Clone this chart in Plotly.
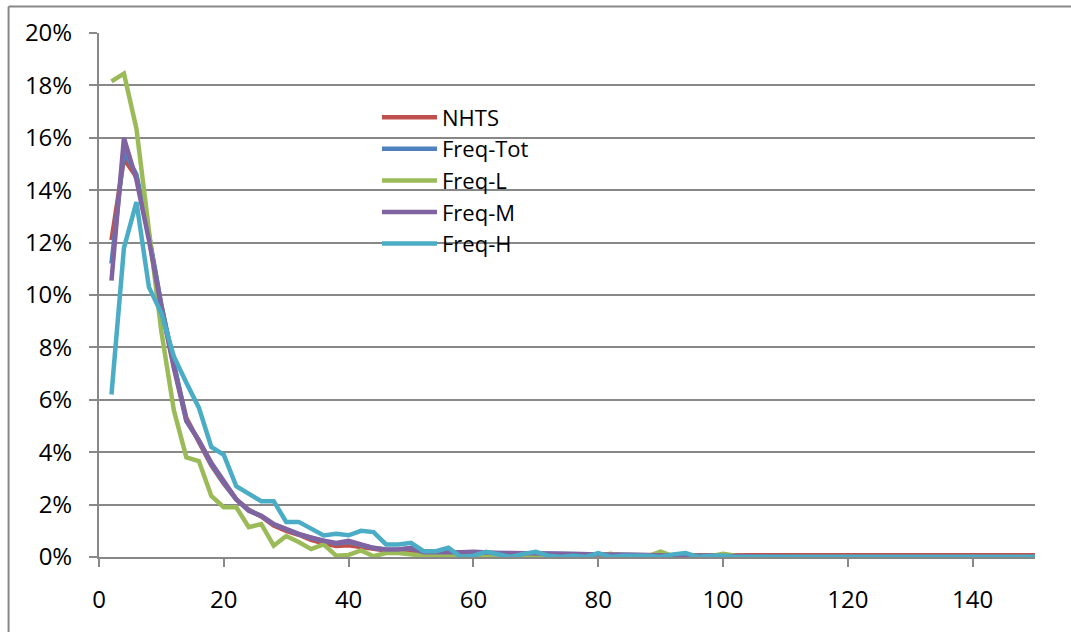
import plotly.graph_objects as go

x_vals = list(range(2, 152, 2))

nhts = [12.1, 15.2, 14.5, 12.2, 9.6, 7.3, 5.3, 4.4, 3.5, 2.8, 2.2, 1.8, 1.55, 1.2, 1.0, 0.85, 0.65, 0.52, 0.42, 0.45,
        0.38, 0.3, 0.25, 0.25, 0.25, 0.18, 0.16, 0.15, 0.15, 0.15, 0.14, 0.13, 0.12, 0.12, 0.11, 0.1, 0.1, 0.09, 0.09, 0.08,
        0.08, 0.08, 0.07, 0.07, 0.07, 0.07, 0.07, 0.07, 0.07, 0.07, 0.07, 0.07, 0.07, 0.07, 0.07, 0.07, 0.07, 0.07, 0.07, 0.07,
        0.07, 0.07, 0.07, 0.07, 0.07, 0.07, 0.07, 0.07, 0.07, 0.07, 0.07, 0.07, 0.07, 0.07, 0.07]
freq_tot = [11.2, 15.5, 14.6, 12.3, 9.6, 7.3, 5.2, 4.45, 3.55, 2.85, 2.2, 1.78, 1.57, 1.25, 1.05, 0.87, 0.72, 0.6, 0.52, 0.58,
            0.46, 0.34, 0.28, 0.28, 0.33, 0.18, 0.18, 0.17, 0.17, 0.19, 0.16, 0.15, 0.14, 0.14, 0.13, 0.12, 0.12, 0.11, 0.1, 0.1,
            0.09, 0.09, 0.08, 0.08, 0.06, 0.06, 0.05, 0.05, 0.04, 0.03, 0.02, 0.01, 0.0, 0.0, 0.0, 0.0, 0.0, 0.0, 0.0, 0.0,
            0.0, 0.0, 0.0, 0.0, 0.0, 0.0, 0.0, 0.0, 0.0, 0.0, 0.0, 0.0, 0.0, 0.0, 0.0]
freq_l = [18.15, 18.45, 16.35, 12.6, 8.6, 5.6, 3.8, 3.66, 2.33, 1.9, 1.9, 1.14, 1.26, 0.43, 0.8, 0.57, 0.3, 0.48, 0.05, 0.08,
          0.25, 0.03, 0.15, 0.15, 0.08, 0.05, 0.05, 0.05, 0.02, 0.05, 0.0, 0.05, 0.03, 0.05, 0.02, 0.03, 0.02, 0.05, 0.03, 0.05,
          0.12, 0.03, 0.05, 0.03, 0.2, 0.03, 0.02, 0.05, 0.03, 0.12, 0.05, 0.02, 0.0, 0.0, 0.0, 0.0, 0.0, 0.0, 0.0, 0.0,
          0.0, 0.0, 0.0, 0.0, 0.0, 0.0, 0.0, 0.0, 0.0, 0.0, 0.0, 0.0, 0.0, 0.0, 0.0]
freq_m = [10.55, 16.0, 14.4, 12.1, 9.5, 7.2, 5.2, 4.45, 3.6, 2.9, 2.2, 1.76, 1.57, 1.26, 1.07, 0.88, 0.75, 0.62, 0.54, 0.62,
          0.48, 0.35, 0.29, 0.29, 0.35, 0.18, 0.18, 0.17, 0.18, 0.2, 0.16, 0.15, 0.15, 0.14, 0.14, 0.13, 0.12, 0.12, 0.11, 0.1,
          0.1, 0.09, 0.08, 0.08, 0.06, 0.06, 0.05, 0.05, 0.04, 0.03, 0.02, 0.01, 0.0, 0.0, 0.0, 0.0, 0.0, 0.0, 0.0, 0.0,
          0.0, 0.0, 0.0, 0.0, 0.0, 0.0, 0.0, 0.0, 0.0, 0.0, 0.0, 0.0, 0.0, 0.0, 0.0]
freq_h = [6.2, 11.8, 13.55, 10.3, 9.3, 7.65, 6.65, 5.7, 4.2, 3.9, 2.7, 2.4, 2.13, 2.13, 1.34, 1.34, 1.1, 0.82, 0.89, 0.83,
          1.0, 0.95, 0.48, 0.48, 0.54, 0.22, 0.22, 0.35, 0.0, 0.05, 0.2, 0.1, 0.0, 0.12, 0.2, 0.05, 0.0, 0.05, 0.0, 0.15,
          0.0, 0.05, 0.05, 0.05, 0.0, 0.1, 0.15, 0.0, 0.05, 0.05, 0.0, 0.0, 0.0, 0.0, 0.0, 0.0, 0.0, 0.0, 0.0, 0.0,
          0.0, 0.0, 0.0, 0.0, 0.0, 0.0, 0.0, 0.0, 0.0, 0.0, 0.0, 0.0, 0.0, 0.0, 0.0]

series_names = ["NHTS", "Freq-Tot", "Freq-L", "Freq-M", "Freq-H"]
series_vals = [nhts, freq_tot, freq_l, freq_m, freq_h]
colors = ["#C0504D", "#4F81BD", "#9BBB59", "#8064A2", "#4BACC6"]

y_tick_vals = [0, 0.02, 0.04, 0.06, 0.08, 0.10, 0.12, 0.14, 0.16, 0.18, 0.20]
y_tick_text = ["0%", "2%", "4%", "6%", "8%", "10%", "12%", "14%", "16%", "18%", "20%"]
x_tick_vals = [0, 20, 40, 60, 80, 100, 120, 140]

fig = go.Figure()
for i, (name, vals, col) in enumerate(zip(series_names, series_vals, colors)):
    fig.add_trace(go.Scatter(
        x=x_vals, y=[v / 100 for v in vals], mode="lines", name=name,
        legendgroup=f"g{i}",
        line=dict(color=col, width=4.5, shape="linear"),
    ))

grid_col = "#888888"
font_family = "'Open Sans', sans-serif"
tick_font = dict(family=font_family, size=24, color="black")

fig.update_layout(
    width=1071, height=632,
    margin=dict(l=98.5, r=36, t=32.5, b=74.5),
    paper_bgcolor="white", plot_bgcolor="white",
    font=dict(family=font_family, size=22, color="black"),
    showlegend=True,
    legend=dict(
        x=0.297, y=0.879, xanchor="left", yanchor="top",
        bgcolor="rgba(0,0,0,0)", font=dict(family=font_family, size=22, color="black"),
        tracegroupgap=0, itemwidth=55,
    ),
    xaxis=dict(
        range=[0, 150], tickvals=x_tick_vals, showgrid=False, tickfont=tick_font,
        showline=True, linecolor=grid_col, linewidth=2,
        ticks="outside", ticklen=8, tickcolor=grid_col, tickwidth=2,
        ticklabelstandoff=12, zeroline=False,
    ),
    yaxis=dict(
        range=[0, 0.2], tickvals=y_tick_vals, ticktext=y_tick_text, tickfont=tick_font,
        showgrid=True, gridcolor=grid_col, gridwidth=2,
        showline=True, linecolor=grid_col, linewidth=2,
        ticks="outside", ticklen=8, tickcolor=grid_col, tickwidth=2,
        ticklabelstandoff=12, zeroline=False,
    ),
    shapes=[
        dict(type="line", xref="paper", yref="paper", x0=-0.0966, x1=1.1, y0=1.0505, y1=1.0505,
             line=dict(color=grid_col, width=2)),
        dict(type="line", xref="paper", yref="paper", x0=-0.0966, x1=-0.0966, y0=1.0505, y1=-0.2,
             line=dict(color=grid_col, width=2)),
    ],
)

fig.write_html("out.html")
